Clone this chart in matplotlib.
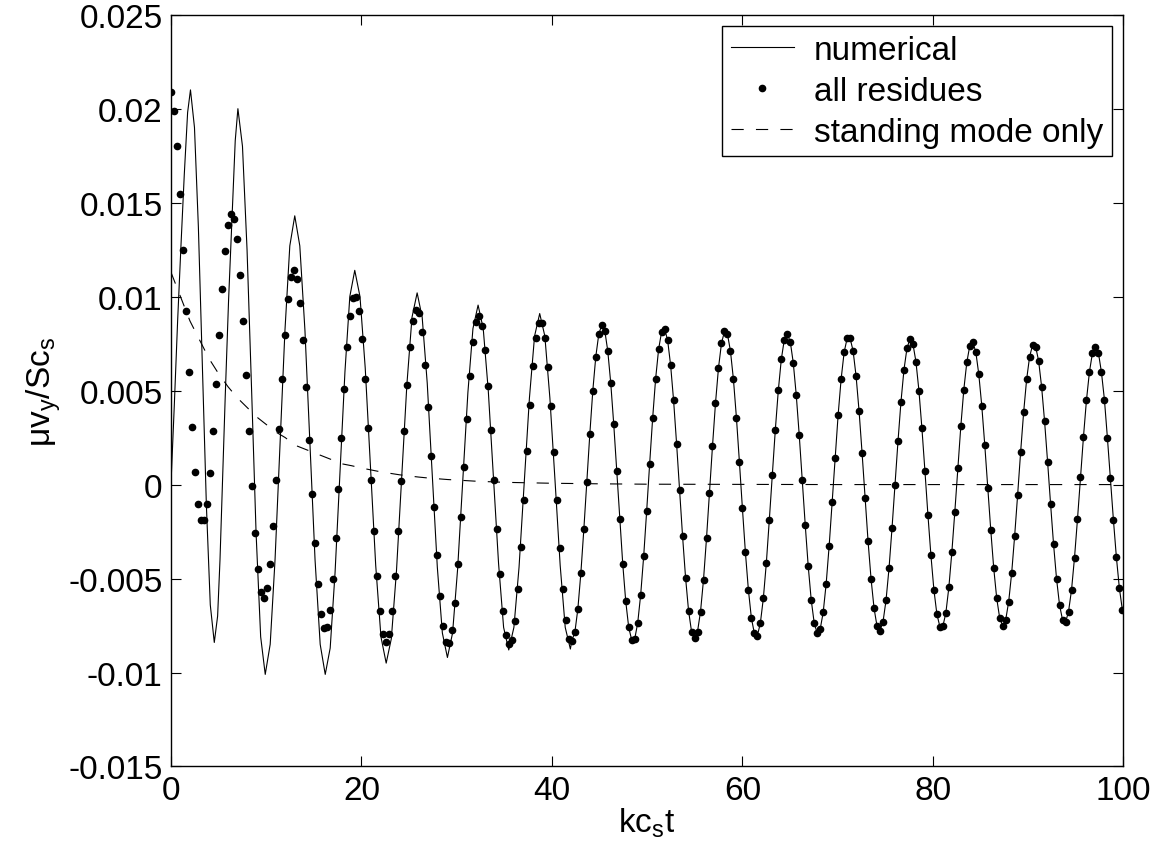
import numpy as np
import matplotlib
matplotlib.use('Agg')
import matplotlib.pyplot as plt

plt.rcParams['font.family'] = ['Liberation Sans', 'DejaVu Sans']
plt.rcParams['mathtext.default'] = 'regular'

# dots ("all residues") sampled every t_step in kc_s t
t_step = 0.31416
residues = [
    0.02090, 0.01986, 0.01800, 0.01548, 0.01248, 0.00924, 0.00600, 0.00306, 0.00065, -0.00105,
    -0.00190, -0.00188, -0.00102, 0.00063, 0.00284, 0.00535, 0.00798, 0.01040, 0.01241, 0.01381,
    0.01438, 0.01413, 0.01305, 0.01117, 0.00870, 0.00585, 0.00285, -0.00006, -0.00258, -0.00451,
    -0.00570, -0.00603, -0.00550, -0.00421, -0.00222, 0.00024, 0.00294, 0.00560, 0.00798, 0.00988,
    0.01105, 0.01144, 0.01094, 0.00966, 0.00770, 0.00518, 0.00237, -0.00048, -0.00312, -0.00530,
    -0.00687, -0.00763, -0.00758, -0.00667, -0.00504, -0.00283, -0.00023, 0.00248, 0.00509, 0.00734,
    0.00895, 0.00991, 0.00997, 0.00922, 0.00773, 0.00560, 0.00303, 0.00026, -0.00245, -0.00485,
    -0.00674, -0.00793, -0.00837, -0.00793, -0.00673, -0.00485, -0.00247, 0.00018, 0.00287, 0.00532,
    0.00732, 0.00870, 0.00931, 0.00913, 0.00810, 0.00636, 0.00411, 0.00150, -0.00121, -0.00375,
    -0.00593, -0.00753, -0.00840, -0.00845, -0.00776, -0.00628, -0.00421, -0.00172, 0.00092, 0.00351,
    0.00580, 0.00757, 0.00864, 0.00895, 0.00845, 0.00716, 0.00526, 0.00289, 0.00026, -0.00236,
    -0.00476, -0.00671, -0.00799, -0.00848, -0.00825, -0.00728, -0.00555, -0.00334, -0.00080, 0.00180,
    0.00425, 0.00633, 0.00782, 0.00858, 0.00858, 0.00778, 0.00627, 0.00420, 0.00175, -0.00084,
    -0.00336, -0.00555, -0.00722, -0.00822, -0.00830, -0.00786, -0.00662, -0.00472, -0.00238, 0.00016,
    0.00269, 0.00500, 0.00681, 0.00801, 0.00849, 0.00819, 0.00711, 0.00539, 0.00320, 0.00071,
    -0.00183, -0.00421, -0.00620, -0.00760, -0.00827, -0.00822, -0.00737, -0.00586, -0.00382, -0.00141,
    0.00111, 0.00353, 0.00564, 0.00721, 0.00813, 0.00828, 0.00769, 0.00636, 0.00448, 0.00218,
    -0.00030, -0.00275, -0.00495, -0.00671, -0.00782, -0.00818, -0.00782, -0.00676, -0.00506, -0.00286,
    -0.00043, 0.00204, 0.00432, 0.00620, 0.00751, 0.00815, 0.00801, 0.00711, 0.00560, 0.00356,
    0.00120, -0.00126, -0.00360, -0.00560, -0.00710, -0.00792, -0.00804, -0.00737, -0.00605, -0.00417,
    -0.00187, 0.00053, 0.00291, 0.00501, 0.00666, 0.00771, 0.00801, 0.00760, 0.00648, 0.00476,
    0.00262, 0.00024, -0.00215, -0.00435, -0.00614, -0.00737, -0.00790, -0.00769, -0.00680, -0.00527,
    -0.00325, -0.00094, 0.00143, 0.00372, 0.00562, 0.00704, 0.00778, 0.00778, 0.00711, 0.00576,
    0.00390, 0.00168, -0.00070, -0.00302, -0.00502, -0.00658, -0.00754, -0.00777, -0.00730, -0.00616,
    -0.00446, -0.00233, -0.00002, 0.00230, 0.00441, 0.00611, 0.00725, 0.00775, 0.00748, 0.00654,
    0.00500, 0.00299, 0.00074, -0.00160, -0.00375, -0.00559, -0.00689, -0.00756, -0.00754, -0.00683,
    -0.00547, -0.00360, -0.00144, 0.00087, 0.00310, 0.00505, 0.00650, 0.00739, 0.00757, 0.00707,
    0.00588, 0.00420, 0.00212, -0.00018, -0.00240, -0.00445, -0.00605, -0.00711, -0.00750, -0.00720,
    -0.00623, -0.00470, -0.00272, -0.00053, 0.00175, 0.00385, 0.00560, 0.00681, 0.00743, 0.00734,
    0.00659, 0.00521, 0.00336, 0.00122, -0.00103, -0.00318, -0.00502, -0.00641, -0.00720, -0.00733,
    -0.00676, -0.00561, -0.00389, -0.00183, 0.00039, 0.00255, 0.00450, 0.00601, 0.00700, 0.00730,
    0.00700, 0.00598, 0.00452, 0.00248, 0.00033, -0.00187, -0.00387, -0.00552, -0.00667,
]

# numerical solution, early part (before it merges with the residue curve)
num_t = [0.0, 0.35, 0.7, 1.05, 1.4, 1.75, 2.05,
         2.47, 2.88, 3.3, 3.72, 4.13, 4.55,
         4.9, 5.15, 5.4, 5.7, 6.05, 6.45, 6.75, 7.03,
         7.51, 7.99, 8.47, 8.94, 9.42, 9.9,
         10.42, 10.93, 11.45, 11.97, 12.48, 13.0,
         13.53, 14.07, 14.6, 15.13, 15.67, 16.2,
         16.72, 17.23, 17.75, 18.27, 18.78, 19.3,
         19.85, 20.4, 20.95, 21.5, 22.05, 22.6,
         23.14, 23.68, 24.23, 24.77, 25.31, 25.85,
         26.38, 26.91, 27.44, 27.97, 28.5, 29.03,
         29.57, 30.1, 30.64, 31.18, 31.71, 32.25,
         32.79, 33.32, 33.86, 34.4, 34.93, 35.47,
         36.01, 36.55, 37.1, 37.64, 38.18, 38.72,
         39.26, 39.79, 40.33, 40.87, 41.4, 41.94]
num_v = [0.0, 0.0042, 0.0087, 0.0127, 0.0165, 0.0198, 0.0210,
         0.0190, 0.0137, 0.0063, -0.0011, -0.0064, -0.0084,
         -0.0070, -0.0040, 0.0, 0.0047, 0.0098, 0.0146, 0.0183, 0.0200,
         0.0180, 0.0125, 0.0050, -0.0026, -0.0081, -0.0101,
         -0.0085, -0.0040, 0.0021, 0.0082, 0.0127, 0.0143,
         0.0127, 0.0082, 0.0021, -0.0040, -0.0085, -0.0101,
         -0.0087, -0.0047, 0.0007, 0.0060, 0.0100, 0.0114,
         0.0100, 0.0062, 0.0010, -0.0043, -0.0081, -0.0095,
         -0.0082, -0.0046, 0.0004, 0.0053, 0.0089, 0.0102,
         0.0089, 0.0054, 0.0005, -0.0044, -0.0079, -0.0092,
         -0.0079, -0.0045, 0.0002, 0.0049, 0.0083, 0.00955,
         0.0083, 0.0050, 0.0004, -0.0042, -0.0076, -0.0088,
         -0.0076, -0.0044, 0.0001, 0.0046, 0.0079, 0.0091,
         0.0079, 0.0046, 0.0002, -0.0043, -0.0076, -0.00875]
merge_index = 134  # from here on the numerical line lies on the residue dots

# standing mode only
stand_t = [0, 1, 2, 3, 4, 5, 6, 7, 8, 9, 10, 11, 12, 13, 14, 15, 16, 17, 18, 19, 20,
           21, 22, 23, 24, 25, 26, 27, 28, 29, 30, 31, 32, 33, 34, 35, 36, 37, 38, 39, 40,
           45, 50, 60, 70, 80, 90, 100]
stand_v = [0.0113, 0.0100, 0.0087, 0.0077, 0.0067, 0.0059, 0.0052, 0.0046, 0.0041, 0.0036,
           0.0032, 0.0028, 0.0025, 0.0021, 0.0019, 0.0017, 0.0015, 0.0013, 0.0011, 0.0010,
           0.00088, 0.00078, 0.00068, 0.00060, 0.00052, 0.00046, 0.00040, 0.00035, 0.00031,
           0.00027, 0.00024, 0.00021, 0.00018, 0.00016, 0.00014, 0.00012, 0.00011, 0.00010,
           0.00009, 0.00008, 0.00007, 0.00004, 0.00002, 0.00001, 0.0, 0.0, 0.0, 0.0]

xticks = [0, 20, 40, 60, 80, 100]
yticks = [-0.015, -0.01, -0.005, 0, 0.005, 0.01, 0.015, 0.02, 0.025]
ytick_labels = ['-0.015', '-0.01', '-0.005', '0', '0.005', '0.01', '0.015', '0.02', '0.025']

t_res = t_step * np.arange(len(residues))
line_t = np.concatenate([num_t, t_res[merge_index:]])
line_v = np.concatenate([num_v, np.array(residues)[merge_index:]])

fig = plt.figure(figsize=(11.59, 8.54), dpi=100)
ax = fig.add_axes([0.1475, 0.1013, 0.8217, 0.8803])

ax.plot(line_t, line_v, 'k-', lw=0.8, label='numerical')
ax.plot(t_res, residues, 'k.', ms=9, label='all residues')
ax.plot(stand_t, stand_v, 'k', lw=0.8, dashes=[11, 11], label='standing mode only')

ax.set_xlim(0, 100)
ax.set_ylim(-0.015, 0.025)
ax.set_xticks(xticks)
ax.set_xticklabels([str(x) for x in xticks])
ax.set_yticks(yticks)
ax.set_yticklabels(ytick_labels)
ax.tick_params(direction='in', length=7, width=0.8, labelsize=24, top=True, right=True, pad=6)
for s in ax.spines.values():
    s.set_linewidth(1.0)

ax.set_xlabel('kc$_s$t', fontsize=24, labelpad=0)
ax.set_ylabel('μv$_y$/Sc$_s$', fontsize=24, labelpad=4)

leg = ax.legend(loc='upper right', fontsize=24, fancybox=False, framealpha=1,
                edgecolor='k', handlelength=1.9, handletextpad=0.6, labelspacing=0.3,
                borderpad=0.25, borderaxespad=0.35, markerscale=1.0)
leg.get_frame().set_linewidth(1.0)

fig.savefig('out.png', dpi=100)
